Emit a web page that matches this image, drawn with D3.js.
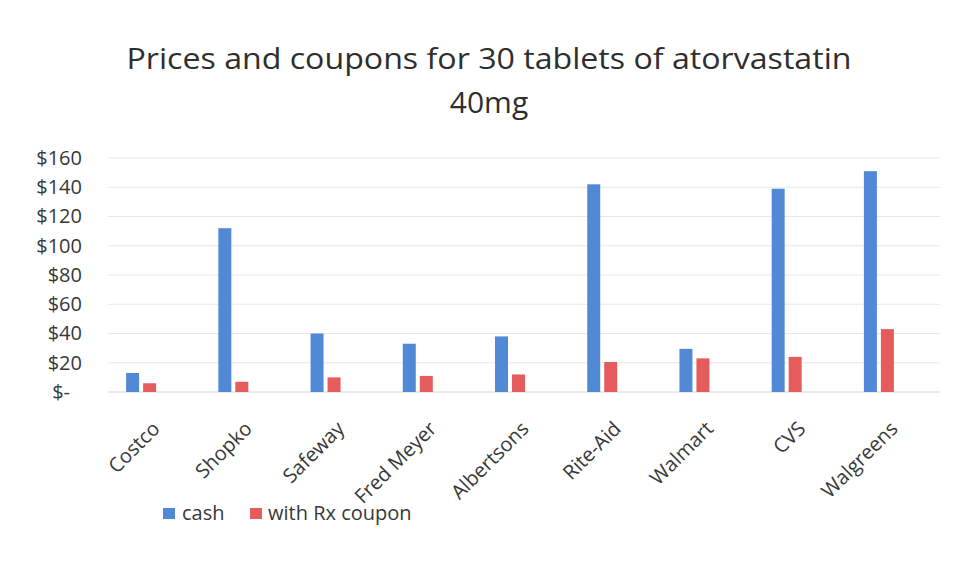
<!DOCTYPE html>
<html>
<head>
<meta charset="utf-8">
<script src="https://cdn.jsdelivr.net/npm/d3@7"></script>
<style>
  html, body { margin: 0; padding: 0; background: #ffffff; }
  svg { display: block; }
  text { font-family: "Open Sans", "Noto Sans", sans-serif; }
</style>
</head>
<body>
<svg id="chart" width="956" height="583"></svg>
<script>
// ---- data ----
const categories = ["Costco", "Shopko", "Safeway", "Fred Meyer", "Albertsons", "Rite-Aid", "Walmart", "CVS", "Walgreens"];
const cashPrices = [13, 112, 40, 33, 38, 142, 29.5, 139, 151];
const couponPrices = [6, 7, 10, 11, 12, 20.5, 23, 24, 43];
const seriesNames = ["cash", "with Rx coupon"];
const yTicks = [0, 20, 40, 60, 80, 100, 120, 140, 160];
const titleLines = ["Prices and coupons for 30 tablets of atorvastatin", "40mg"];

// ---- layout ----
const W = 956, H = 583;
const svg = d3.select("#chart");
svg.append("rect").attr("width", W).attr("height", H).attr("fill", "#ffffff");

const colors = ["#5289d6", "#e65c5c"];
const textColor = "#383838";

const x = d3.scaleBand().domain(categories).range([95, 925]).paddingInner(0).paddingOuter(0);
const y = d3.scaleLinear().domain([0, 160]).range([392, 158]);
const barW = 13, gap = 2;

// gridlines
svg.append("g")
  .selectAll("line")
  .data(yTicks)
  .join("line")
  .attr("x1", 108).attr("x2", 940)
  .attr("y1", d => y(d)).attr("y2", d => y(d))
  .attr("stroke", d => d === 0 ? "#d6d6d6" : "#e8e8e8")
  .attr("stroke-width", 1);

// y axis labels
const yAxis = d3.axisLeft(y)
  .tickValues(yTicks)
  .tickSize(0)
  .tickPadding(4)
  .tickFormat(d => d === 0 ? "$-" : "$" + d);
const yg = svg.append("g").attr("transform", "translate(86,0)").call(yAxis);
yg.select(".domain").remove();
yg.selectAll("text")
  .attr("fill", textColor)
  .style("font-size", "20px")
  .attr("dx", d => d === 0 ? -12 : 0);

// bars
const series = [cashPrices, couponPrices];
series.forEach((vals, si) => {
  svg.append("g")
    .selectAll("rect")
    .data(categories.map((c, i) => ({ c, v: vals[i] })))
    .join("rect")
    .attr("x", d => x(d.c) + x.bandwidth() / 2 + (si === 0 ? -(barW + gap) : gap))
    .attr("width", barW)
    .attr("y", d => y(d.v))
    .attr("height", d => y(0) - y(d.v))
    .attr("fill", colors[si]);
});

// category labels (rotated)
svg.append("g")
  .selectAll("text")
  .data(categories)
  .join("text")
  .attr("transform", d => `translate(${x(d) + x.bandwidth() / 2 + 20},430) rotate(-45)`)
  .attr("text-anchor", "end")
  .attr("fill", textColor)
  .style("font-size", "20px")
  .text(d => d);

// title
svg.append("text")
  .attr("x", 489).attr("y", 69)
  .attr("text-anchor", "middle")
  .attr("fill", "#2e2e2e")
  .style("font-size", "30px")
  .attr("textLength", 725)
  .attr("lengthAdjust", "spacingAndGlyphs")
  .text(titleLines[0]);
svg.append("text")
  .attr("x", 489).attr("y", 113)
  .attr("text-anchor", "middle")
  .attr("fill", "#2e2e2e")
  .style("font-size", "30px")
  .text(titleLines[1]);

// legend
const legendItems = [
  { name: seriesNames[0], color: colors[0], sx: 163, tx: 182 },
  { name: seriesNames[1], color: colors[1], sx: 250, tx: 268 }
];
const lg = svg.append("g");
legendItems.forEach(it => {
  lg.append("rect").attr("x", it.sx).attr("y", 508).attr("width", 12).attr("height", 11).attr("fill", it.color);
  lg.append("text").attr("x", it.tx).attr("y", 520)
    .attr("fill", textColor).style("font-size", "20px").text(it.name);
});
</script>
</body>
</html>
